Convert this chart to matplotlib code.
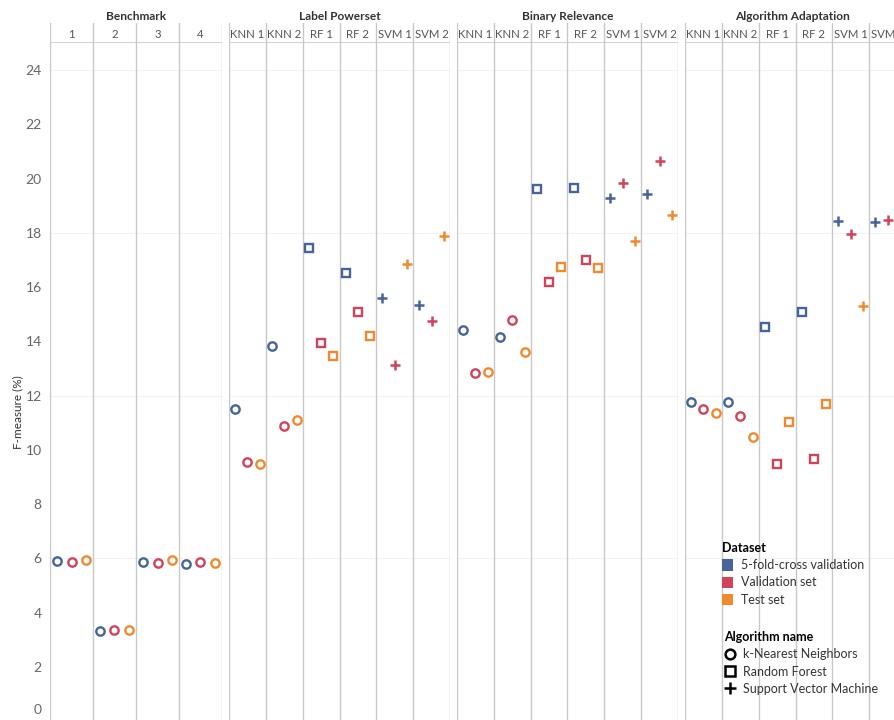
import matplotlib
matplotlib.use('Agg')
import matplotlib.pyplot as plt
from matplotlib.lines import Line2D
from matplotlib.patches import Patch

plt.rcParams['font.family'] = ['Lato', 'DejaVu Sans']

groups = ['Benchmark', 'Label Powerset', 'Binary Relevance', 'Algorithm Adaptation']
benchCols = ['1', '2', '3', '4']
methodCols = ['KNN 1', 'KNN 2', 'RF 1', 'RF 2', 'SVM 1', 'SVM 2']
datasets = ['5-fold-cross validation', 'Validation set', 'Test set']
algorithms = ['k-Nearest Neighbors', 'Random Forest', 'Support Vector Machine']

benchCv = [5.90, 3.32, 5.88, 5.80]
benchVal = [5.88, 3.36, 5.84, 5.88]
benchTest = [5.93, 3.36, 5.95, 5.82]

lpCv = [11.51, 13.84, 17.45, 16.53, 15.60, 15.35]
lpVal = [9.56, 10.89, 13.95, 15.09, 13.14, 14.76]
lpTest = [9.48, 11.11, 13.47, 14.21, 16.86, 17.90]

brCv = [14.43, 14.17, 19.63, 19.67, 19.30, 19.45]
brVal = [12.84, 14.80, 16.20, 17.01, 19.85, 20.66]
brTest = [12.88, 13.62, 16.75, 16.72, 17.71, 18.67]

aaCv = [11.77, 11.77, 14.54, 15.09, 18.45, 18.41]
aaVal = [11.51, 11.25, 9.48, 9.67, 17.97, 18.49]
aaTest = [11.37, 10.48, 11.03, 11.70, 15.31, 18.00]

yTicks = list(range(0, 25, 2))

colors = ['#46639a', '#d2435a', '#ef8a2f']
markerOf = {'KNN': 'o', 'RF': 's', 'SVM': '+'}
lineColor = '#c8c8c8'

panels = [
    (benchCols, [benchCv, benchVal, benchTest], ['o'] * 4),
    (methodCols, [lpCv, lpVal, lpTest], [markerOf[c.split()[0]] for c in methodCols]),
    (methodCols, [brCv, brVal, brTest], [markerOf[c.split()[0]] for c in methodCols]),
    (methodCols, [aaCv, aaVal, aaTest], [markerOf[c.split()[0]] for c in methodCols]),
]

W, H = 894, 720
fig = plt.figure(figsize=(W / 100, H / 100), dpi=100)

# pixel extents of each panel (left, right)
extents = [(50, 222), (229, 450), (457, 678), (685, 906)]
plotTop, plotBottom = 43, 721
headTop = 23

for k, (cols, series, markers) in enumerate(panels):
    x0, x1 = extents[k]
    ax = fig.add_axes([x0 / W, (H - plotBottom) / H, (x1 - x0) / W, (plotBottom - plotTop) / H])
    n = len(cols)
    ax.set_xlim(0, n)
    ax.set_ylim(0, 25)
    for s in ax.spines.values():
        s.set_visible(False)
    ax.set_xticks([])
    for g in [6, 12, 18, 24]:
        ax.axhline(g, color='#f2f2f2', lw=0.8, zorder=0)
    for v in range(n + 1):
        ax.axvline(v, color=lineColor, lw=1, zorder=1)
    for d, vals in enumerate(series):
        for i, val in enumerate(vals):
            m = markers[i]
            xpos = i + (d * 2 + 1) / 6
            if m == '+':
                ax.plot(xpos, val, marker='+', color=colors[d], markersize=7.5, mew=1.8, zorder=3)
            else:
                ax.plot(xpos, val, marker=m, markerfacecolor='none', markeredgecolor=colors[d],
                        markersize=6 if m == 'o' else 6.2, mew=1.7, zorder=3)
    if k == 0:
        ax.set_yticks(yTicks)
        # the zero label sits just above the cut-off bottom edge, as in the original
        ax.set_yticklabels([''] + [str(t) for t in yTicks[1:]])
        ax.tick_params(axis='y', length=0, pad=6, labelsize=10, labelcolor='#666666')
        ax.annotate(str(yTicks[0]), xy=(0, yTicks[0]), xycoords=('axes fraction', 'data'),
                    xytext=(-6, 8), textcoords='offset points', ha='right', va='center',
                    fontsize=10, color='#666666', annotation_clip=False)
    else:
        ax.set_yticks([])

    # header
    hx = fig.add_axes([x0 / W, (H - plotTop) / H, (x1 - x0) / W, (plotTop - headTop) / H])
    hx.set_xlim(0, n)
    hx.set_ylim(0, 1)
    hx.axis('off')
    for v in range(n + 1):
        hx.axvline(v, color=lineColor, lw=1)
    hx.axhline(0, color=lineColor, lw=1.2)
    for i, c in enumerate(cols):
        hx.text(i + 0.5, 0.45, c, ha='center', va='center', fontsize=8.2, color='#555555')
    fig.text(((x0 + x1) / 2 if k < 3 else (x0 + 894) / 2 + 3) / W, 1 - 16 / H, groups[k],
             ha='center', va='center', fontsize=8.6, fontweight='bold', color='#333333')

fig.text(18 / W, 1 - 412 / H, 'F-measure (%)', rotation=90, ha='center', va='center',
         fontsize=8.5, color='#333333')

# legends
dsHandles = [Patch(facecolor=c, edgecolor='none') for c in colors]
leg1 = fig.legend(dsHandles, datasets, title='Dataset', loc='upper left',
                  bbox_to_anchor=(717 / W, 1 - 537 / H), frameon=False, fontsize=9,
                  handlelength=0.9, handleheight=1.0, handletextpad=0.6, labelspacing=0.42,
                  borderaxespad=0, title_fontproperties={'weight': 'bold', 'size': 9})
leg1._legend_box.align = 'left'
for t in leg1.get_texts():
    t.set_color('#333333')

algHandles = [
    Line2D([], [], marker='o', ls='none', markerfacecolor='none', markeredgecolor='black', markersize=7, mew=1.8),
    Line2D([], [], marker='s', ls='none', markerfacecolor='none', markeredgecolor='black', markersize=7, mew=1.8),
    Line2D([], [], marker='+', ls='none', color='black', markersize=8, mew=1.8),
]
leg2 = fig.legend(algHandles, algorithms, title='Algorithm name', loc='upper left',
                  bbox_to_anchor=(719 / W, 1 - 626 / H), frameon=False, fontsize=9,
                  handlelength=1.0, handletextpad=0.5, labelspacing=0.42,
                  borderaxespad=0, title_fontproperties={'weight': 'bold', 'size': 9})
leg2._legend_box.align = 'left'
for t in leg2.get_texts():
    t.set_color('#333333')

fig.savefig('out.png', dpi=100)
